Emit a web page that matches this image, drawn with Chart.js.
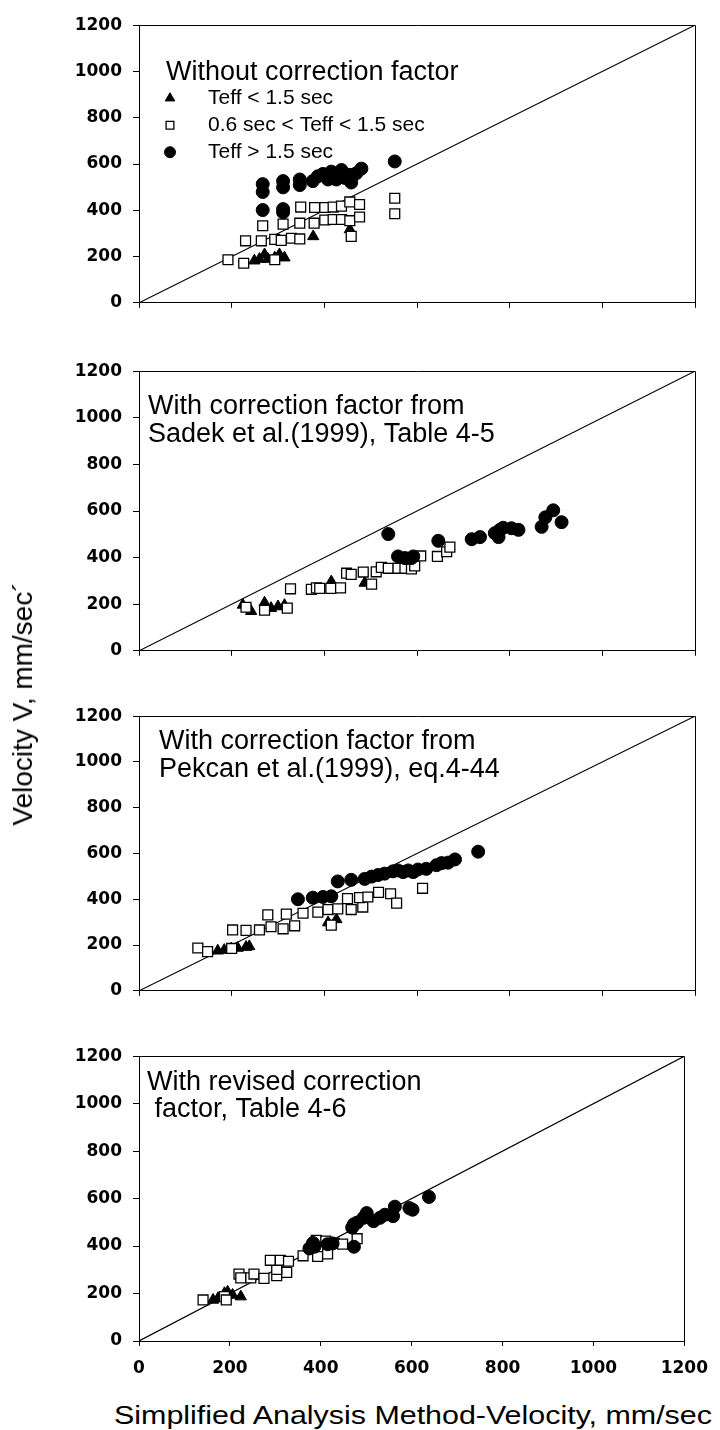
<!DOCTYPE html>
<html>
<head>
<meta charset="utf-8">
<script src="https://cdn.jsdelivr.net/npm/chart.js@4.4.1/dist/chart.umd.min.js"></script>
<style>
  body { margin: 0; background: #fff; }
  #wrap { position: relative; width: 720px; height: 1430px; overflow: hidden; background: #fff; }
  canvas { position: absolute; left: 0; }
  .title { position: absolute; font-family: "Liberation Sans", Arial, sans-serif; color: #000; white-space: nowrap; line-height: 1; }
  #xtitle { left: 413px; top: 1415px; font-size: 26px; transform: translate(-50%, -50%) scaleX(1.17); }
  #ytitle { left: 23px; top: 704px; font-size: 28px; transform: translate(-50%, -50%) rotate(-90deg); }
</style>
</head>
<body>
<div id="wrap">
  <canvas id="p1"></canvas>
  <canvas id="p2"></canvas>
  <canvas id="p3"></canvas>
  <canvas id="p4"></canvas>
  <div class="title" id="ytitle">Velocity V, mm/sec´</div>
  <div class="title" id="xtitle">Simplified Analysis Method-Velocity, mm/sec</div>
</div>
<script>
// axis range and ticks (same on every panel)
var axisMin = 0, axisMax = 1200, tickStep = 200;

var legendLabels = ['Teff < 1.5 sec', '0.6 sec < Teff < 1.5 sec', 'Teff > 1.5 sec'];

// panel 1 - without correction factor  [x, y]
var p1Tri = [[249,182],[260,189],[271,209],[278,189],[293,195],[303,209],[314,195],[376,287],[455,317]];
var p1Sq = [[192,186],[226,171],[230,268],[264,268],[267,333],[293,186],[293,274],[307,270],[311,340],[329,279],
  [347,276],[347,344],[349,414],[378,344],[379,412],[401,412],[401,358],[419,414],[419,360],[437,418],
  [437,360],[455,355],[455,436],[458,287],[476,425],[476,371],[552,452],[552,385]];
var p1Circ = [[267,513],[267,479],[267,401],[311,526],[311,499],[311,405],[311,391],[347,533],[347,509],[375,526],
  [386,547],[397,557],[408,533],[415,567],[426,533],[437,574],[444,540],[455,553],[458,520],[469,560],
  [480,580],[552,611]];

// panel 2 - Sadek et al. (1999)
var p2Tri = [[224,197],[242,170],[271,206],[285,183],[300,190],[314,196],[415,297],[487,291]];
var p2Sq = [[231,187],[271,174],[320,183],[327,266],[372,264],[383,270],[390,268],[414,268],[435,270],[448,333],
  [458,328],[484,338],[502,286],[512,339],[523,358],[538,354],[559,354],[574,354],[588,351],[595,364],
  [608,407],[644,405],[664,425],[671,445]];
var p2Circ = [[538,501],[646,472],[559,405],[574,398],[588,398],[592,405],[718,479],[736,488],[768,505],[779,519],
  [786,528],[804,526],[819,519],[776,488],[869,532],[877,573],[894,603],[912,552]];

// panel 3 - Pekcan et al. (1999)
var p3Tri = [[170,175],[184,178],[199,184],[213,187],[231,191],[238,194],[408,298],[426,312]];
var p3Sq = [[127,187],[148,171],[200,185],[202,266],[231,264],[260,266],[285,280],[311,271],[336,284],[278,332],
  [318,335],[354,339],[386,344],[408,355],[429,358],[458,355],[483,366],[415,287],[450,403],[476,407],
  [494,410],[517,430],[543,424],[556,383],[612,448]];
var p3Circ = [[732,608],[682,574],[667,560],[653,558],[642,549],[620,533],[602,530],[592,519],[581,526],[570,519],
  [559,526],[548,522],[530,512],[516,506],[502,499],[487,489],[458,485],[429,478],[415,413],[397,410],
  [375,407],[343,400]];

// panel 4 - revised correction factor
var p4Tri = [[163,173],[174,180],[188,201],[195,207],[206,194],[224,187]];
var p4Sq = [[141,173],[188,187],[192,173],[220,282],[224,266],[246,266],[253,282],[275,264],[303,275],[325,289],
  [303,302],[289,340],[311,340],[329,336],[361,359],[393,356],[415,367],[390,424],[411,421],[430,411],
  [448,408],[480,431]];
var p4Circ = [[638,607],[595,560],[602,553],[563,566],[559,526],[541,532],[530,519],[516,505],[501,539],[494,519],
  [480,499],[469,478],[473,492],[473,397],[426,411],[415,408],[383,413],[386,397],[375,390]];

var toXY = function(arr) { return arr.map(function(p) { return {x: p[0], y: p[1]}; }); };

var markerStyles = [
  {pointStyle: 'triangle', radius: 6.5, bg: '#000', lw: 1},
  {pointStyle: 'rect', radius: 7, bg: '#fff', lw: 1.3},
  {pointStyle: 'circle', radius: 6.5, bg: '#000', lw: 1}
];

// frame, notes and the little legend inside panel 1
var notesPlugin = {
  id: 'notes',
  beforeDatasetsDraw: function(chart) {
    var ctx = chart.ctx, a = chart.chartArea;
    ctx.save();
    ctx.strokeStyle = '#000';
    ctx.lineWidth = 1;
    ctx.beginPath();
    ctx.moveTo(Math.round(a.left) + 0.5, Math.round(a.top) + 0.5);
    ctx.lineTo(Math.round(a.right) + 0.5, Math.round(a.top) + 0.5);
    ctx.lineTo(Math.round(a.right) + 0.5, Math.round(a.bottom) + 0.5);
    ctx.stroke();
    ctx.restore();
  },
  afterDraw: function(chart, args, opts) {
    var ctx = chart.ctx, a = chart.chartArea;
    ctx.save();
    ctx.fillStyle = '#000';
    ctx.textBaseline = 'middle';
    ctx.textAlign = 'left';
    ctx.font = '27px "Liberation Sans", Arial, sans-serif';
    (opts.lines || []).forEach(function(l) {
      ctx.fillText(l.text, a.left + l.dx, a.top + l.dy);
    });
    if (opts.legend) {
      ctx.font = '21px "Liberation Sans", Arial, sans-serif';
      legendLabels.forEach(function(lab, i) {
        var y = a.top + opts.legend.dy + i * opts.legend.step;
        var m = markerStyles[i];
        ctx.fillStyle = m.bg;
        ctx.strokeStyle = '#000';
        ctx.lineWidth = m.lw;
        Chart.helpers.drawPoint(ctx, {pointStyle: m.pointStyle, radius: 5.5, rotation: 0, borderWidth: m.lw},
          a.left + opts.legend.markerDx, y);
        ctx.fillStyle = '#000';
        ctx.fillText(lab, a.left + opts.legend.textDx, y);
      });
    }
    ctx.restore();
  }
};

var tickFont = {family: '"DejaVu Sans", sans-serif', weight: 'bold', size: 17};
var plainTick = function(v) { return String(v); };
var padTop = 12;

function makePanel(p) {
  var xh = p.xLabels ? 40 : 12;
  var cv = document.getElementById(p.id);
  cv.width = 720;
  cv.height = padTop + (p.bottom - p.top) + xh;
  cv.style.top = (p.top - padTop) + 'px';

  var sets = [p.circ, p.sq, p.tri].map(function(d, k) {
    var m = markerStyles[2 - k];
    return {
      data: toXY(d),
      pointStyle: m.pointStyle,
      pointRadius: m.radius,
      pointBackgroundColor: m.bg,
      pointBorderColor: '#000',
      pointBorderWidth: m.lw,
      showLine: false
    };
  });
  sets.push({
    data: [{x: axisMin, y: axisMin}, {x: axisMax, y: axisMax}],
    showLine: true,
    borderColor: '#000',
    borderWidth: 1.2,
    pointRadius: 0
  });

  return new Chart(cv, {
    type: 'scatter',
    data: {datasets: sets},
    plugins: [notesPlugin],
    options: {
      responsive: false,
      animation: false,
      devicePixelRatio: 1,
      events: [],
      layout: {padding: {top: padTop, right: 25, bottom: 0, left: 0}},
      plugins: {
        legend: {display: false},
        tooltip: {enabled: false},
        notes: {lines: p.lines, legend: p.legend}
      },
      scales: {
        x: {
          type: 'linear', min: axisMin, max: axisMax,
          border: {color: '#000', width: 1},
          grid: {drawOnChartArea: false, color: '#000', tickLength: 5},
          ticks: {display: p.xLabels, stepSize: tickStep, color: '#000', font: tickFont, padding: 12,
                  maxRotation: 0, callback: plainTick},
          afterFit: function(s) { s.height = xh; }
        },
        y: {
          type: 'linear', min: axisMin, max: axisMax,
          border: {color: '#000', width: 1},
          grid: {drawOnChartArea: false, color: '#000', tickLength: 6},
          ticks: {stepSize: tickStep, color: '#000', font: tickFont, padding: 11, callback: plainTick},
          afterFit: function(s) { s.width = 139; }
        }
      }
    }
  });
}

makePanel({id: 'p1', top: 16, bottom: 312, tri: p1Tri, sq: p1Sq, circ: p1Circ, xLabels: false,
  lines: [{text: 'Without correction factor', dx: 27, dy: 47}],
  legend: {dy: 73, step: 27, markerDx: 31, textDx: 69}});
makePanel({id: 'p2', top: 362, bottom: 660, tri: p2Tri, sq: p2Sq, circ: p2Circ, xLabels: false,
  lines: [{text: 'With correction factor from', dx: 9, dy: 35},
          {text: 'Sadek et al.(1999), Table 4-5', dx: 9, dy: 63}]});
makePanel({id: 'p3', top: 707, bottom: 1000, tri: p3Tri, sq: p3Sq, circ: p3Circ, xLabels: false,
  lines: [{text: 'With correction factor from', dx: 20, dy: 25},
          {text: 'Pekcan et al.(1999), eq.4-44', dx: 20, dy: 53}]});
makePanel({id: 'p4', top: 1047, bottom: 1341, tri: p4Tri, sq: p4Sq, circ: p4Circ, xLabels: true,
  lines: [{text: 'With revised correction', dx: 8, dy: 26},
          {text: ' factor, Table 4-6', dx: 8, dy: 53}]});
</script>
</body>
</html>
